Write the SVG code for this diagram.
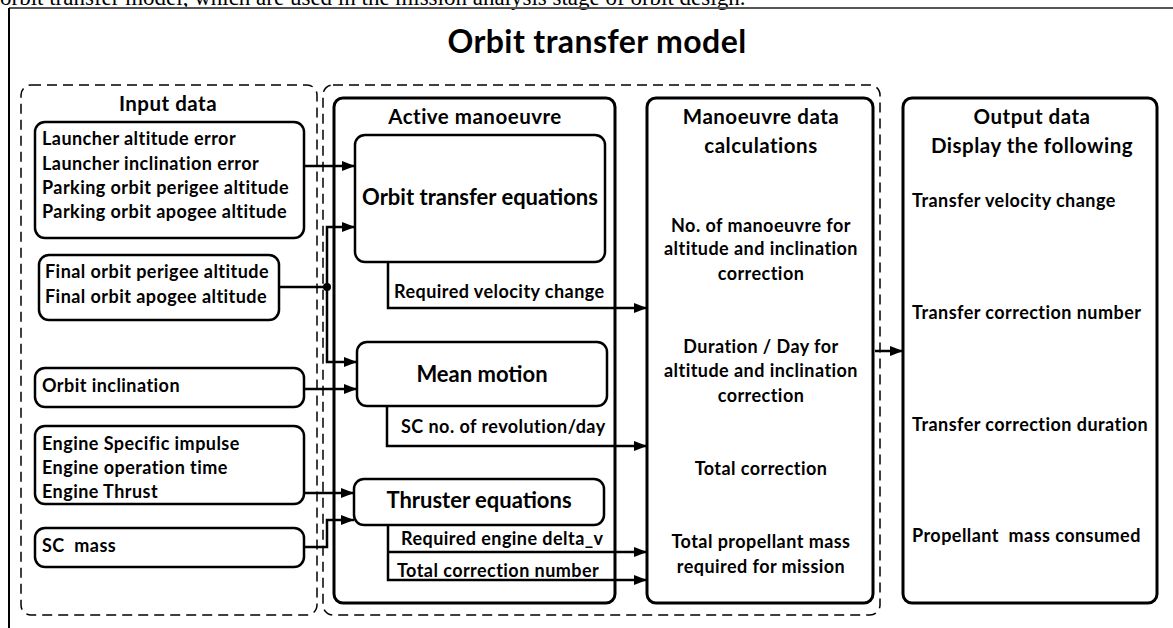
<svg xmlns="http://www.w3.org/2000/svg" width="1173" height="628" viewBox="0 0 1173 628">
<style>
.t{font-family:Lato,"Open Sans","Liberation Sans",sans-serif;font-weight:bold;fill:#000}
.b{font-size:18px;letter-spacing:0.45px}
.h{font-size:20.5px;letter-spacing:0.5px}
.m{font-size:22px}
.box{fill:#fff;stroke:#000;stroke-width:2.5}
.big{fill:#fff;stroke:#000;stroke-width:3}
.dash{fill:none;stroke:#000;stroke-width:1.5;stroke-dasharray:10 6}
.c{fill:none;stroke:#000;stroke-width:2.5}
</style>
<defs>
<marker id="ah" markerWidth="13" markerHeight="10" refX="13" refY="5" orient="auto" markerUnits="userSpaceOnUse"><path d="M0,0 L13,5 L0,10 z" fill="#000"/></marker>
</defs>
<rect width="1173" height="628" fill="#fff"/>
<text x="0" y="5" font-family="Liberation Serif,serif" font-size="23">orbit transfer model, which are used in the mission analysis stage of orbit design.</text>
<g id="frame">
<line x1="9" y1="8" x2="1173" y2="8" stroke="#555" stroke-width="2"/>
<line x1="9" y1="8" x2="9" y2="628" stroke="#000" stroke-width="2"/>
</g>
<text class="t" x="597" y="53" font-size="32" letter-spacing="0.4" text-anchor="middle">Orbit transfer model</text>

<g id="input-group">
<rect class="dash" x="21" y="85" width="296" height="530" rx="10"/>
<text class="t h" x="168" y="111" text-anchor="middle">Input data</text>
</g>
<g id="process-group">
<rect class="dash" x="323" y="85" width="557" height="530" rx="10"/>
</g>

<g id="launcher">
<rect class="box" x="35" y="122" width="269" height="116" rx="10"/>
<text class="t b" x="42" y="145">Launcher altitude error</text>
<text class="t b" x="42" y="170">Launcher inclination error</text>
<text class="t b" x="42" y="194">Parking orbit perigee altitude</text>
<text class="t b" x="42" y="218">Parking orbit apogee altitude</text>
</g>
<g id="final-orbit">
<rect class="box" x="39" y="255" width="240" height="65" rx="10"/>
<text class="t b" x="45" y="278">Final orbit perigee altitude</text>
<text class="t b" x="45" y="303">Final orbit apogee altitude</text>
</g>
<g id="orbit-inclination">
<rect class="box" x="35" y="368" width="269" height="39" rx="10"/>
<text class="t b" x="42" y="392">Orbit inclination</text>
</g>
<g id="engine">
<rect class="box" x="35" y="426" width="269" height="78" rx="10"/>
<text class="t b" x="42" y="450">Engine Specific impulse</text>
<text class="t b" x="42" y="474">Engine operation time</text>
<text class="t b" x="42" y="498">Engine Thrust</text>
</g>
<g id="sc-mass">
<rect class="box" x="35" y="528" width="269" height="39" rx="10"/>
<text class="t b" x="42" y="552" xml:space="preserve">SC  mass</text>
</g>

<g id="active-manoeuvre">
<rect class="big" x="334" y="98" width="281" height="505" rx="9"/>
<text class="t h" x="475" y="124" text-anchor="middle">Active manoeuvre</text>
</g>
<g id="orbit-transfer-equations">
<rect class="box" x="355" y="135" width="250" height="127" rx="10"/>
<text class="t m" x="480" y="205" text-anchor="middle">Orbit transfer equations</text>
</g>
<g id="mean-motion">
<rect class="box" x="357" y="342" width="250" height="64" rx="10"/>
<text class="t m" x="482" y="382" text-anchor="middle">Mean motion</text>
</g>
<g id="thruster-equations">
<rect class="box" x="354" y="479" width="250" height="46" rx="10"/>
<text class="t m" x="479" y="508" text-anchor="middle">Thruster equations</text>
</g>

<g id="manoeuvre-data">
<rect class="big" x="647" y="98" width="226" height="505" rx="9"/>
<text class="t h" x="761" y="124" text-anchor="middle">Manoeuvre data</text>
<text class="t h" x="761" y="153" text-anchor="middle">calculations</text>
<text class="t b" x="761" y="232" text-anchor="middle">No. of manoeuvre for</text>
<text class="t b" x="761" y="255" text-anchor="middle">altitude and inclination</text>
<text class="t b" x="761" y="280" text-anchor="middle">correction</text>
<text class="t b" x="761" y="353" text-anchor="middle">Duration / Day for</text>
<text class="t b" x="761" y="377" text-anchor="middle">altitude and inclination</text>
<text class="t b" x="761" y="402" text-anchor="middle">correction</text>
<text class="t b" x="761" y="475" text-anchor="middle">Total correction</text>
<text class="t b" x="761" y="548" text-anchor="middle">Total propellant mass</text>
<text class="t b" x="761" y="573" text-anchor="middle">required for mission</text>
</g>

<g id="output-data">
<rect class="big" x="903" y="98" width="254" height="505" rx="9"/>
<text class="t h" x="1032" y="124" text-anchor="middle">Output data</text>
<text class="t h" x="1032" y="153" text-anchor="middle">Display the following</text>
<text class="t b" x="912" y="207">Transfer velocity change</text>
<text class="t b" x="912" y="319">Transfer correction number</text>
<text class="t b" x="912" y="431">Transfer correction duration</text>
<text class="t b" x="912" y="542" xml:space="preserve">Propellant  mass consumed</text>
</g>

<g id="connectors">
<path class="c" d="M304,166 H355" marker-end="url(#ah)"/>
<path class="c" d="M279,287 H327"/>
<path class="c" d="M327,287 V227 H355" marker-end="url(#ah)"/>
<path class="c" d="M327,287 V362 H357" marker-end="url(#ah)"/>
<circle cx="327" cy="287" r="4" fill="#000"/>
<path class="c" d="M304,389 H357" marker-end="url(#ah)"/>
<path class="c" d="M304,493 H354" marker-end="url(#ah)"/>
<path class="c" d="M304,547 H327 V520 H354" marker-end="url(#ah)"/>
<path class="c" d="M388,262 V308 H647" marker-end="url(#ah)"/>
<text class="t b" x="394" y="298">Required velocity change</text>
<path class="c" d="M387,406 V446 H647" marker-end="url(#ah)"/>
<text class="t b" x="401" y="433">SC no. of revolution/day</text>
<path class="c" d="M388,525 V580 H647" marker-end="url(#ah)"/>
<path class="c" d="M388,552 H647" marker-end="url(#ah)"/>
<text class="t b" x="401" y="545">Required engine delta_v</text>
<text class="t b" x="397" y="577">Total correction number</text>
<path class="c" d="M875,351 H903" marker-end="url(#ah)"/>
</g>
</svg>
